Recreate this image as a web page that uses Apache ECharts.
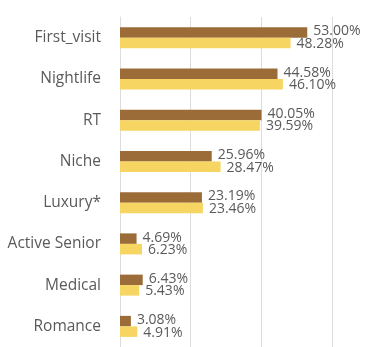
<!DOCTYPE html>
<html>
<head>
<meta charset="utf-8">
<script src="https://cdn.jsdelivr.net/npm/echarts@6/dist/echarts.min.js"></script>
<style>
  html, body { margin: 0; padding: 0; background: #ffffff; }
  #chart { width: 368px; height: 347px; }
</style>
</head>
<body>
<div id="chart"></div>
<script>
// Segment names, top to bottom
const categories = ['First_visit', 'Nightlife', 'RT', 'Niche', 'Luxury*', 'Active Senior', 'Medical', 'Romance'];
// Share per segment (%), two groups
const seriesA = [53.00, 44.58, 40.05, 25.96, 23.19, 4.69, 6.43, 3.08];
const seriesB = [48.28, 46.10, 39.59, 28.47, 23.46, 6.23, 5.43, 4.91];
// Value axis range and step
const axisMin = 0;
const axisMax = 60;
const axisStep = 20;

const textColor = '#5a5a5a';
const fontFamily = '"Open Sans", "Noto Sans", sans-serif';

const chart = echarts.init(document.getElementById('chart'), null, { renderer: 'canvas' });

function labelOf(dy) {
  return {
    show: true,
    position: 'right',
    distance: 6,
    offset: [0, dy],
    color: textColor,
    fontSize: 14,
    fontFamily: fontFamily,
    formatter: p => p.value.toFixed(2) + '%'
  };
}

chart.setOption({
  animation: false,
  backgroundColor: '#ffffff',
  grid: { left: 120, right: 36, top: 17, bottom: 0, containLabel: false },
  xAxis: {
    type: 'value',
    min: axisMin,
    max: axisMax,
    interval: axisStep,
    axisLabel: { show: false },
    axisLine: { show: false },
    axisTick: { show: false },
    splitLine: { show: true, lineStyle: { color: '#dcdcdc', width: 1 } }
  },
  yAxis: {
    type: 'category',
    data: categories,
    inverse: true,
    axisLine: { show: true, lineStyle: { color: '#dcdcdc', width: 1 } },
    axisTick: { show: false },
    axisLabel: {
      margin: 19,
      color: textColor,
      fontSize: 15.5,
      fontFamily: fontFamily
    }
  },
  series: [
    {
      type: 'bar',
      data: seriesA,
      barWidth: 10.5,
      barGap: '0%',
      itemStyle: { color: '#9b6c38' },
      label: labelOf(-1)
    },
    {
      type: 'bar',
      data: seriesB,
      barWidth: 10.5,
      barGap: '0%',
      itemStyle: { color: '#f6d563' },
      label: labelOf(1)
    }
  ]
});
</script>
</body>
</html>
